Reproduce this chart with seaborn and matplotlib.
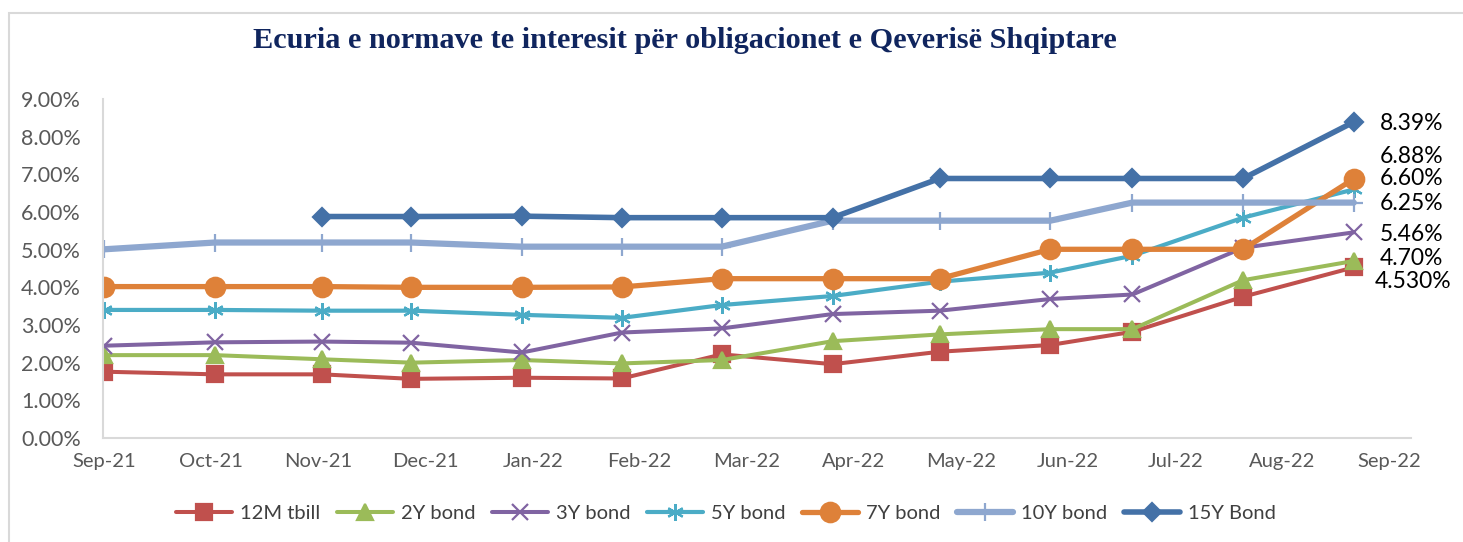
import numpy as np
import pandas as pd
import matplotlib
matplotlib.use('Agg')
import matplotlib.pyplot as plt
from matplotlib.patches import Rectangle
from matplotlib.ticker import PercentFormatter
import seaborn as sns

sns.set_style('white')
plt.rcParams['font.family'] = ['Lato', 'DejaVu Sans']

# auction dates
dates = pd.to_datetime(['2021-09-15', '2021-10-16', '2021-11-15', '2021-12-10',
                        '2022-01-10', '2022-02-07', '2022-03-07', '2022-04-07',
                        '2022-05-07', '2022-06-07', '2022-06-30', '2022-07-31',
                        '2022-08-31'])

# yields, %
tbill_12m = [1.76, 1.69, 1.69, 1.57, 1.60, 1.58, 2.22, 1.96, 2.29, 2.47, 2.82, 3.75, 4.53]
bond_2y = [2.20, 2.20, 2.09, 2.00, 2.07, 1.98, 2.07, 2.57, 2.75, 2.89, 2.89, 4.19, 4.70]
bond_3y = [2.45, 2.54, 2.56, 2.53, 2.27, 2.80, 2.91, 3.29, 3.38, 3.69, 3.81, 5.05, 5.46]
bond_5y = [3.40, 3.40, 3.38, 3.38, 3.27, 3.19, 3.53, 3.77, 4.15, 4.39, 4.84, 5.85, 6.60]
bond_7y = [4.02, 4.02, 4.02, 4.00, 4.00, 4.01, 4.23, 4.23, 4.23, 5.01, 5.01, 5.01, 6.88]
bond_10y = [5.01, 5.19, 5.19, 5.19, 5.08, 5.08, 5.08, 5.77, 5.77, 5.77, 6.25, 6.25, 6.25]
bond_15y = [np.nan, np.nan, 5.88, 5.88, 5.89, 5.85, 5.85, 5.85, 6.89, 6.89, 6.89, 6.89, 8.39]

series_names = ['12M tbill', '2Y bond', '3Y bond', '5Y bond', '7Y bond', '10Y bond', '15Y Bond']
end_labels = ['4.530%', '4.70%', '5.46%', '6.60%', '6.88%', '6.25%', '8.39%']

tick_dates = pd.date_range('2021-09-15', periods=13, freq='30D')

colors = ['#C0504D', '#9BBB59', '#8064A2', '#4BACC6', '#DE8139', '#8EA7CF', '#4471A7']
markers = ['s', '^', 'x', (6, 2, 0), 'o', '+', 'D']
msizes = [11, 11.5, 12, 12, 14, 13, 9.5]
lwidths = [2.9, 2.9, 2.9, 3.0, 3.8, 4.5, 4.0]
# label offsets (points) relative to the last point
label_dx = [15, 19, 19, 19, 19, 19, 19]
label_dy = [-10, 1.5, -1.5, 8, 16, -1, -1]

fig = plt.figure(figsize=(14.63, 5.42), dpi=100)
ax = fig.add_axes([0.0704, 0.1919, 0.894, 0.6254])

all_series = [tbill_12m, bond_2y, bond_3y, bond_5y, bond_7y, bond_10y, bond_15y]
for name, vals, c, m, ms, lw in zip(series_names, all_series, colors, markers, msizes, lwidths):
    d = pd.DataFrame({'date': dates, 'rate': vals})
    sns.lineplot(x='date', y='rate', data=d, ax=ax, color=c, marker=m, markersize=ms,
                 linewidth=lw, markeredgecolor=c, markerfacecolor=c,
                 markeredgewidth=1.6, label=name)

for vals, txt, dx, dy in zip(all_series, end_labels, label_dx, label_dy):
    ax.annotate(txt, xy=(dates[-1], vals[-1]), xytext=(dx, dy),
                textcoords='offset points', ha='left', va='center',
                fontsize=16.5, color='black', annotation_clip=False)

ax.set_ylim(0, 9)
ax.set_yticks(np.arange(0, 10, 1))
ax.yaxis.set_major_formatter(PercentFormatter(xmax=100, decimals=2))
ax.set_xlim(dates[0] - pd.Timedelta(hours=8), dates[0] + pd.Timedelta(days=366))
ax.set_xticks(tick_dates)
ax.set_xticklabels([t.strftime('%b-%y') for t in tick_dates])
ax.set_xlabel('')
ax.set_ylabel('')
ax.tick_params(axis='y', length=0, pad=16, labelsize=15.5, labelcolor='#595959')
ax.tick_params(axis='x', length=0, pad=11, labelsize=14.5, labelcolor='#595959')
for s in ['top', 'right']:
    ax.spines[s].set_visible(False)
for s in ['left', 'bottom']:
    ax.spines[s].set_color('#D9D9D9')
    ax.spines[s].set_linewidth(1.5)

ax.get_legend().remove()
handles, labels = ax.get_legend_handles_labels()
fig.legend(handles, labels, loc='center', bbox_to_anchor=(726 / 1463, 0.0535), ncol=7,
           frameon=False, fontsize=14.5, handlelength=2.8, handletextpad=0.4,
           columnspacing=0.8, labelcolor='#404040')

fig.text(685 / 1463, 0.926, 'Ecuria e normave te interesit për obligacionet e Qeverisë Shqiptare',
         ha='center', va='center', fontsize=21.8, fontweight='bold',
         family='Liberation Serif', color='#10255E')

# chart border (left and top visible)
fig.patches.append(Rectangle((9 / 1463, -0.2), 1.2, (542 - 13) / 542 + 0.2,
                             transform=fig.transFigure, fill=False,
                             edgecolor='#D9D9D9', linewidth=1.5, clip_on=False))

fig.savefig('out.png', dpi=100)
